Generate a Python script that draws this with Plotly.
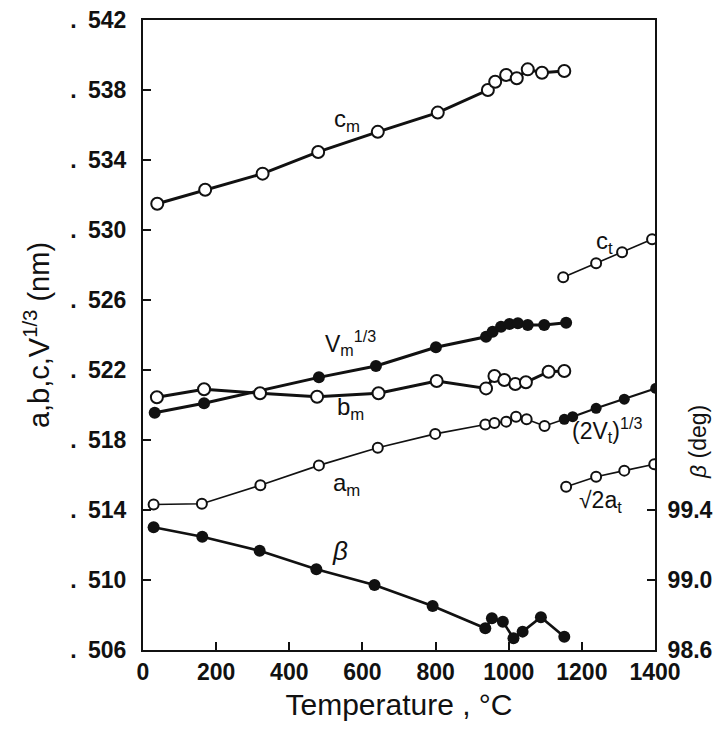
import plotly.graph_objects as go

# ---- data ----
cm_T = [39, 170, 327, 479, 642, 806, 943, 963, 993, 1022, 1052, 1091, 1152]
cm_v = [0.53150, 0.53230, 0.53322, 0.53446, 0.53561, 0.53671, 0.53800, 0.53847,
        0.53886, 0.53867, 0.53918, 0.53899, 0.53909]

bm_T = [38, 167, 320, 476, 644, 803, 938, 961, 988, 1018, 1047, 1109, 1152]
bm_v = [0.52044, 0.52090, 0.52067, 0.52047, 0.52067, 0.52137, 0.52095, 0.52166,
        0.52143, 0.52120, 0.52130, 0.52190, 0.52194]

vm_T = [32, 167, 481, 637, 801, 938, 956, 979, 1002, 1025, 1052, 1097, 1157]
vm_v = [0.51956, 0.52010, 0.52158, 0.52223, 0.52330, 0.52390, 0.52419, 0.52447,
        0.52463, 0.52467, 0.52457, 0.52457, 0.52470]

am_T = [29, 161, 321, 481, 642, 799, 936, 961, 993, 1020, 1049, 1098]
am_v = [0.51431, 0.51436, 0.51542, 0.51655, 0.51756, 0.51835, 0.51889, 0.51897,
        0.51905, 0.51933, 0.51918, 0.51880]

ct_T = [1149, 1239, 1310, 1392]
ct_v = [0.52730, 0.52810, 0.52873, 0.52947]

v2t_T = [1152, 1175, 1239, 1316, 1402]
v2t_v = [0.51918, 0.51933, 0.51981, 0.52033, 0.52095]

at_T = [1157, 1239, 1316, 1398]
at_v = [0.51533, 0.51590, 0.51625, 0.51661]

beta_T = [29, 162, 319, 474, 633, 792, 936, 954, 984, 1013, 1038, 1088, 1152]
beta_deg = [99.301, 99.247, 99.167, 99.061, 98.971, 98.851, 98.724, 98.781,
            98.762, 98.667, 98.705, 98.787, 98.676]

y_ticks = [0.506, 0.510, 0.514, 0.518, 0.522, 0.526, 0.530, 0.534, 0.538, 0.542]
y_ticktext = [".\u2002506", ".\u2002510", ".\u2002514", ".\u2002518", ".\u2002522",
              ".\u2002526", ".\u2002530", ".\u2002534", ".\u2002538", ".\u2002542"]
y2_ticks = [98.6, 99.0, 99.4]
y2_ticktext = ["98.6", "99.0", "99.4"]
x_ticks = [0, 200, 400, 600, 800, 1000, 1200, 1400]

FONT = "Liberation Sans"
BLACK = "#111111"

fig = go.Figure()


def open_trace(x, y, lw, ms):
    return go.Scatter(x=x, y=y, mode="lines+markers",
                      line=dict(color=BLACK, width=lw),
                      marker=dict(symbol="circle", size=ms, color="white",
                                  line=dict(color=BLACK, width=2)),
                      showlegend=False, hoverinfo="skip")


def filled_trace(x, y, lw, ms, yaxis="y"):
    return go.Scatter(x=x, y=y, mode="lines+markers", yaxis=yaxis,
                      line=dict(color=BLACK, width=lw),
                      marker=dict(symbol="circle", size=ms, color=BLACK),
                      showlegend=False, hoverinfo="skip")


fig.add_trace(filled_trace(vm_T, vm_v, 3, 12))
fig.add_trace(open_trace(bm_T, bm_v, 3, 12))
fig.add_trace(open_trace(cm_T, cm_v, 3, 12))
fig.add_trace(go.Scatter(x=[am_T[-1], v2t_T[0]], y=[am_v[-1], v2t_v[0]],
                         mode="lines", line=dict(color=BLACK, width=1.6),
                         showlegend=False, hoverinfo="skip"))
fig.add_trace(open_trace(am_T, am_v, 1.6, 10))
fig.add_trace(filled_trace(v2t_T, v2t_v, 2.2, 11))
fig.add_trace(open_trace(ct_T, ct_v, 1.6, 10))
fig.add_trace(open_trace(at_T, at_v, 1.6, 10))
fig.add_trace(filled_trace(beta_T, beta_deg, 2.6, 12, yaxis="y2"))

# page has an 8px body margin: the figure is sized/positioned to compensate
OFF = 8
W, H = 726 - OFF, 734 - OFF
L, T = 143 - OFF, 20 - OFF
pw, ph = 512, 630
R, B = W - L - pw, H - T - ph

# label positions given in window pixels
labels = [
    (347, 121, "c<sub>m</sub>", 24),
    (604, 243, "c<sub>t</sub>", 24),
    (350, 343, "V<sub>m</sub><sup>1/3</sup>", 23),
    (350, 408, "b<sub>m</sub>", 24),
    (346, 484, "a<sub>m</sub>", 24),
    (340, 551, "<i>β</i>", 26),
    (607, 430, "(2V<sub>t</sub>)<sup>1/3</sup>", 23),
    (600, 502, "√2a<sub>t</sub>", 23),
]
for px, py, txt, fs in labels:
    fig.add_annotation(x=(px - 143) / pw, y=(650 - py) / ph, xref="paper",
                       yref="paper", text=txt, showarrow=False,
                       font=dict(family=FONT, size=fs, color=BLACK),
                       xanchor="center", yanchor="middle")

fig.add_annotation(x=(698 - 143) / pw, y=(650 - 442) / ph, xref="paper",
                   yref="paper", text="<i>β</i> (deg)", textangle=-90,
                   showarrow=False, font=dict(family=FONT, size=23, color=BLACK),
                   xanchor="center", yanchor="middle")

axis_common = dict(showline=True, linecolor=BLACK, linewidth=2, ticks="inside",
                   tickcolor=BLACK, tickwidth=2, ticklen=8, showgrid=False,
                   zeroline=False, automargin=False, ticklabeloverflow="allow")

fig.update_layout(
    width=W, height=H,
    margin=dict(l=L, r=R, t=T, b=B, autoexpand=False),
    paper_bgcolor="white", plot_bgcolor="white",
    xaxis=dict(range=[0, 1400], tickvals=x_ticks, mirror=True,
               tickfont=dict(family=FONT, size=23, color=BLACK, weight="bold"),
               title=dict(text="Temperature , °C", standoff=10,
                          font=dict(family=FONT, size=30, color=BLACK)),
               **axis_common),
    yaxis=dict(range=[0.506, 0.542], tickvals=y_ticks, ticktext=y_ticktext,
               tickfont=dict(family=FONT, size=23, color=BLACK, weight="bold"),
               ticklabelstandoff=10,
               title=dict(text="a,b,c,V<sup>1/3</sup> (nm)", standoff=12,
                          font=dict(family=FONT, size=29, color=BLACK)),
               **axis_common),
    yaxis2=dict(range=[98.6, 102.2], overlaying="y", side="right",
                tickvals=y2_ticks, ticktext=y2_ticktext,
                tickfont=dict(family=FONT, size=23, color=BLACK, weight="bold"),
                ticklabelstandoff=6,
                **axis_common),
)

fig.write_html("out.html")
